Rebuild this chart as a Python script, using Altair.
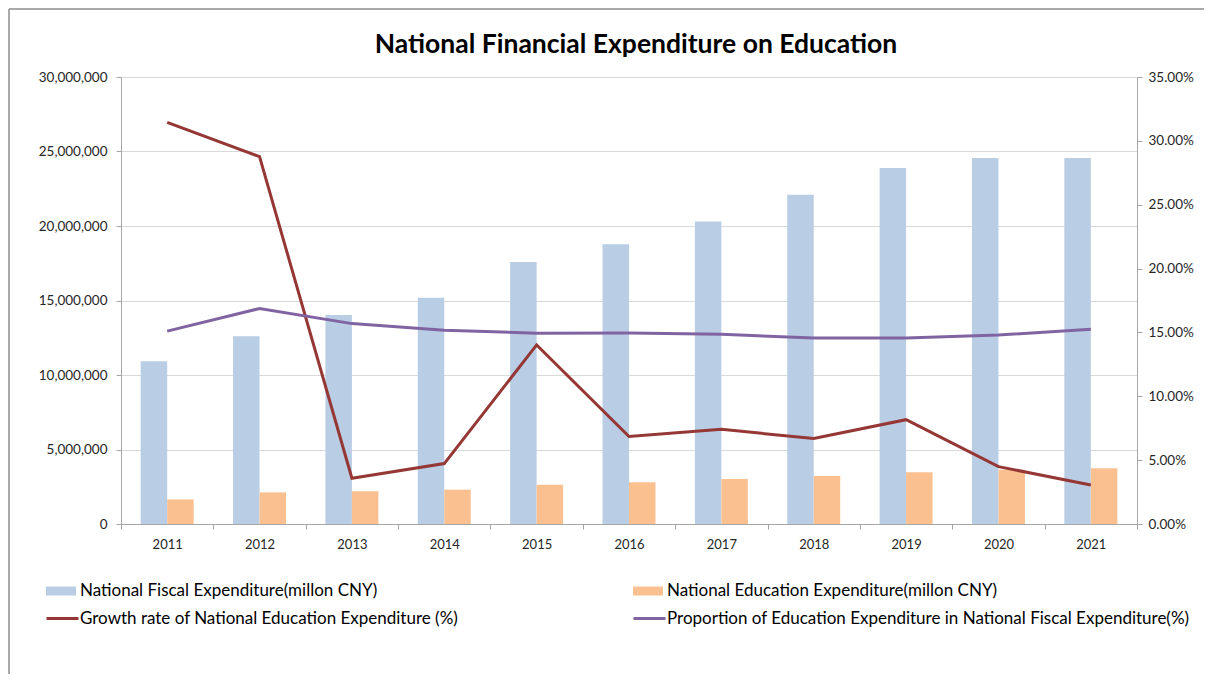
import altair as alt
import pandas as pd

# ---------------- data ----------------
years = ["2011", "2012", "2013", "2014", "2015", "2016", "2017", "2018", "2019", "2020", "2021"]
fiscal = [10924779, 12595297, 14021210, 15178556, 17587777, 18775521,
          20308549, 22090413, 23885837, 24567903, 24567300]
education = [1649733, 2124210, 2200176, 2304171, 2627188, 2807278,
             3015318, 3216947, 3479694, 3635994, 3746885]
growth_rate = [31.45, 28.76, 3.58, 4.73, 14.02, 6.85, 7.41, 6.69, 8.17, 4.49, 3.05]   # %
proportion = [15.10, 16.87, 15.69, 15.18, 14.94, 14.95, 14.85, 14.56, 14.57, 14.80, 15.25]  # %

S_FISCAL = "National Fiscal Expenditure(millon CNY)"
S_EDU = "National Education Expenditure(millon CNY)"
S_GROWTH = "Growth rate of National Education Expenditure (%)"
S_PROP = "Proportion of Education Expenditure in National Fiscal Expenditure(%)"

left_ticks = [0, 5000000, 10000000, 15000000, 20000000, 25000000, 30000000]
right_ticks = [0, 0.05, 0.10, 0.15, 0.20, 0.25, 0.30, 0.35]

bars_df = pd.DataFrame({
    "year": years * 2,
    "series": [S_FISCAL] * len(years) + [S_EDU] * len(years),
    "value": fiscal + education,
})
lines_df = pd.DataFrame({
    "year": years * 2,
    "series": [S_GROWTH] * len(years) + [S_PROP] * len(years),
    "value": [g / 100 for g in growth_rate] + [p / 100 for p in proportion],
})

# ---------------- style ----------------
FONT = "Lato"
W, H = 1016, 447
PX, PY = 121, 77          # page position of plot area (incl. 8px margin)
AXIS_GRAY = "#a6a6a6"
TEXT = "#262626"

C_FISCAL = "#b9cde5"
C_EDU = "#fac090"
C_GROWTH = "#953735"
C_PROP = "#8064a2"

x_enc = alt.X(
    "year:N", sort=years,
    scale=alt.Scale(paddingInner=0, paddingOuter=0),
    axis=alt.Axis(title=None, labelAngle=0, tickBand="extent", grid=False,
                  domainColor=AXIS_GRAY, tickColor=AXIS_GRAY, tickSize=5,
                  labelPadding=9, labelFontSize=13, labelFont=FONT, labelColor=TEXT),
)

left_axis = alt.Axis(title=None, values=left_ticks, format=",.0f", grid=True,
                     gridColor="#d9d9d9", domainColor=AXIS_GRAY, tickColor=AXIS_GRAY,
                     tickSize=5, labelPadding=9, labelFontSize=13.5, labelFont=FONT,
                     labelColor=TEXT)
right_axis = alt.Axis(title=None, orient="right", values=right_ticks, format=".2%",
                      grid=False, domainColor=AXIS_GRAY, tickColor=AXIS_GRAY,
                      tickSize=5, labelPadding=6, labelFontSize=13.5, labelFont=FONT,
                      labelColor=TEXT)

LEGEND_FS = 17


def legend_for(px, py_center, sym_w, is_line):
    if is_line:
        return alt.Legend(title=None, orient="none", legendX=px - PX,
                          legendY=py_center - PY - sym_w / 2, padding=0,
                          symbolType="stroke", symbolSize=sym_w * sym_w,
                          symbolStrokeWidth=3, labelOffset=0, labelFontSize=LEGEND_FS,
                          labelFont=FONT, labelColor="#000", labelLimit=1000)
    return alt.Legend(title=None, orient="none", legendX=px - PX,
                      legendY=py_center - PY - sym_w / 2, padding=0,
                      symbolType="M-1,-0.3H1V0.3H-1Z", symbolSize=sym_w * sym_w,
                      symbolStrokeWidth=0, labelOffset=4, labelFontSize=LEGEND_FS,
                      labelFont=FONT, labelColor="#000", labelLimit=1000)


def bar_layer(series, color, legend):
    return alt.Chart(bars_df).transform_filter(alt.datum.series == series).mark_bar().encode(
        x=x_enc,
        xOffset=alt.XOffset("series:N",
                            scale=alt.Scale(domain=[S_FISCAL, S_EDU], paddingInner=0,
                                            paddingOuter=0.743)),
        y=alt.Y("value:Q", scale=alt.Scale(domain=[0, 30000000]), axis=left_axis),
        color=alt.Color("series:N", scale=alt.Scale(domain=[series], range=[color]),
                        legend=legend),
    )


def line_layer(series, color, legend):
    return alt.Chart(lines_df).transform_filter(alt.datum.series == series).mark_line(
        strokeWidth=3
    ).encode(
        x=x_enc,
        y=alt.Y("value:Q", scale=alt.Scale(domain=[0, 0.35]), axis=right_axis),
        color=alt.Color("series:N", scale=alt.Scale(domain=[series], range=[color]),
                        legend=legend),
    )


bars = alt.layer(
    bar_layer(S_FISCAL, C_FISCAL, legend_for(46, 591, 30, False)),
    bar_layer(S_EDU, C_EDU, legend_for(633, 591, 30, False)),
).resolve_scale(color="independent")

lines = alt.layer(
    line_layer(S_GROWTH, C_GROWTH, legend_for(45, 617, 32, True)),
    line_layer(S_PROP, C_PROP, legend_for(632, 617, 32, True)),
).resolve_scale(color="independent")

# outer chart frame (left and top edges, as in the spreadsheet chart)
frame_df = pd.DataFrame({"k": [0]})
frame_left = alt.Chart(frame_df).mark_rule(color="#8c8c8c", strokeWidth=1.5).encode(
    x=alt.value(9 - PX), y=alt.value(9 - PY), y2=alt.value(700 - PY))
frame_top = alt.Chart(frame_df).mark_rule(color="#8c8c8c", strokeWidth=1.5).encode(
    x=alt.value(9 - PX), x2=alt.value(1210 - PX), y=alt.value(9 - PY))

chart = alt.layer(bars, lines, frame_left, frame_top).resolve_scale(
    y="independent", color="independent"
).properties(
    width=W, height=H,
    title=alt.TitleParams("National Financial Expenditure on Education", anchor="middle",
                          frame="group", dx=7, dy=64, fontSize=26.5, font=FONT,
                          fontWeight="bold", color="#000", offset=14),
    padding={"left": PX - 8, "top": PY - 8, "right": 67, "bottom": 150},
    autosize=alt.AutoSizeParams(type="none"),
).configure_view(strokeWidth=0)

chart.save("out.html", embed_options={"renderer": "svg", "actions": False})
